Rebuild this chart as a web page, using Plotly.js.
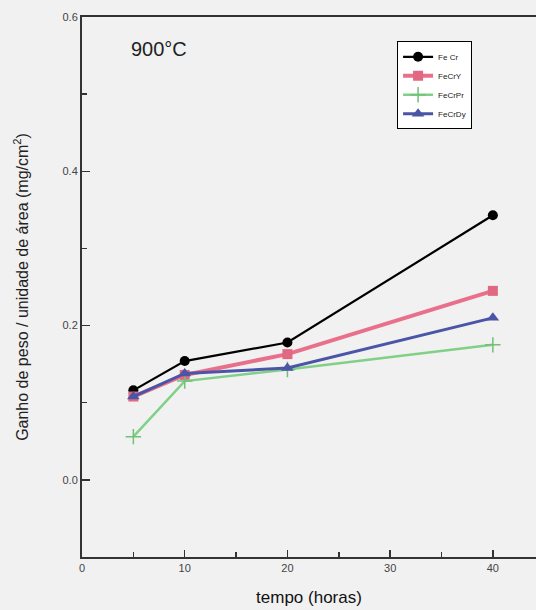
<!DOCTYPE html>
<html>
<head>
<meta charset="utf-8">
<script src="https://cdn.plot.ly/plotly-3.0.1.min.js"></script>
<style>html,body{margin:0;padding:0;background:#f1f1f1;}#chart{width:536px;height:610px;}</style>
</head>
<body>
<div id="chart"></div>
<script>
const tempo = [5, 10, 20, 40];
const feCr   = [0.116, 0.154, 0.178, 0.343];
const feCrY  = [0.108, 0.136, 0.163, 0.245];
const feCrPr = [0.056, 0.128, 0.143, 0.175];
const feCrDy = [0.108, 0.138, 0.145, 0.210];
const seriesNames = ["Fe Cr", "FeCrY", "FeCrPr", "FeCrDy"];
const xTickVals = [0, 10, 20, 30, 40];
const xTickText = ["0", "10", "20", "30", "40"];
const yTickVals = [0.0, 0.2, 0.4, 0.6];
const yTickText = ["0.0", "0.2", "0.4", "0.6"];

const traces = [
  {x: tempo, y: feCr, name: seriesNames[0], mode: "lines+markers",
   line: {color: "#000000", width: 2.2},
   marker: {symbol: "circle", size: 10, color: "#000000"}},
  {x: tempo, y: feCrY, name: seriesNames[1], mode: "lines+markers",
   line: {color: "#e8708a", width: 4},
   marker: {symbol: "square", size: 10, color: "#e06882"}},
  {x: tempo, y: feCrPr, name: seriesNames[2], mode: "lines+markers",
   line: {color: "#80d088", width: 2.5},
   marker: {symbol: "cross-thin", size: 11, color: "#70c078", line: {color: "#70c078", width: 1.5}}},
  {x: tempo, y: feCrDy, name: seriesNames[3], mode: "lines+markers",
   line: {color: "#4a55a6", width: 3},
   marker: {symbol: "triangle-up", size: 11, color: "#4a55a6"}}
];

const layout = {
  width: 536, height: 610,
  paper_bgcolor: "#f1f1f1", plot_bgcolor: "#f1f1f1",
  margin: {l: 82, r: 0, t: 17, b: 53},
  font: {family: "Liberation Sans, Arial, sans-serif", color: "#222"},
  showlegend: true,
  legend: {x: 0.694, y: 0.955, xanchor: "left", yanchor: "top",
    bgcolor: "#ffffff", bordercolor: "#000", borderwidth: 1,
    font: {size: 8, color: "#222"}, tracegroupgap: 0, itemwidth: 30},
  xaxis: {range: [0, 44.2], showline: true, linecolor: "#333", linewidth: 2, mirror: true,
    showgrid: false, zeroline: false,
    tickvals: xTickVals, ticktext: xTickText, ticks: "inside", ticklen: 7, tickwidth: 1.5, tickcolor: "#333",
    minor: {dtick: 5, tick0: 0, ticks: "inside", ticklen: 5, tickwidth: 1.5, tickcolor: "#333", showgrid: false},
    tickfont: {size: 11, color: "#444"},
    title: {text: "tempo (horas)", font: {size: 17, color: "#111"}, standoff: 18}},
  yaxis: {range: [-0.1, 0.6], showline: true, linecolor: "#333", linewidth: 2, mirror: false,
    showgrid: false, zeroline: false,
    tickvals: yTickVals, ticktext: yTickText, ticks: "inside", ticklen: 8, tickwidth: 1.5, tickcolor: "#333",
    minor: {dtick: 0.1, tick0: 0, ticks: "inside", ticklen: 5, tickwidth: 1.5, tickcolor: "#333", showgrid: false},
    tickfont: {size: 11, color: "#444"},
    title: {text: "Ganho de peso / unidade de área (mg/cm<sup>2</sup>)", font: {size: 16, color: "#222"}, standoff: 30}},
  annotations: [
    {text: "900°C", xref: "paper", yref: "paper", x: 0.17, y: 0.94, xanchor: "center", yanchor: "middle",
     showarrow: false, font: {size: 20, color: "#222"}}
  ]
};

Plotly.newPlot("chart", traces, layout, {displayModeBar: false, staticPlot: true});
</script>
</body>
</html>
